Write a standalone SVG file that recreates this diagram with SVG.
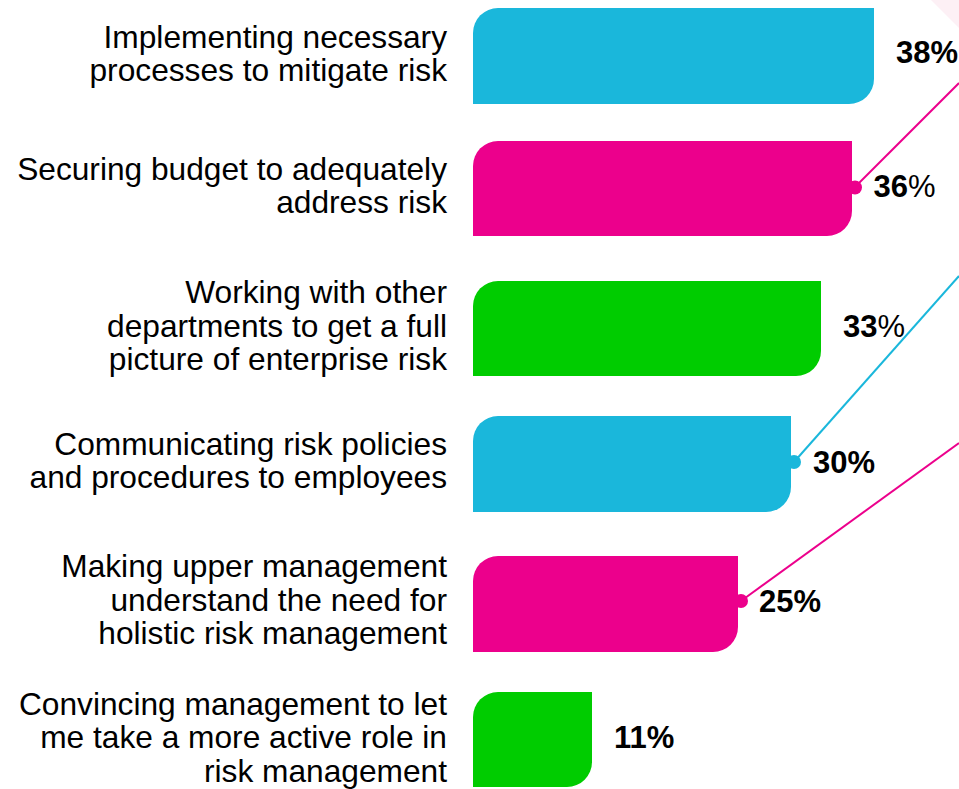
<svg xmlns="http://www.w3.org/2000/svg" width="959" height="789" viewBox="0 0 959 789">
<style>
.lbl{font-family:"Liberation Sans",Arial,sans-serif;font-size:31.7px;fill:#000;text-anchor:end}
.pct{font-family:"Liberation Sans",Arial,sans-serif;font-size:31px;font-weight:bold;fill:#000}
.reg{font-weight:normal}
.cyan{fill:#1AB7DB}
.pink{fill:#EC008C}
.green{fill:#00CC00}
.ln{fill:none;stroke-width:2}
</style>
<rect width="959" height="789" fill="#fff"/>
<polygon points="931,0 959,0 959,28" fill="#fdf0f5"/>
<g id="connectors">
<line class="ln" x1="855" y1="187" x2="959" y2="83" stroke="#EC008C"/>
<line class="ln" x1="794" y1="462" x2="959" y2="276" stroke="#1AB7DB"/>
<line class="ln" x1="741" y1="601" x2="959" y2="443" stroke="#EC008C"/>
<circle cx="855" cy="187.5" r="7" class="pink"/>
<circle cx="794" cy="462" r="7" class="cyan"/>
<circle cx="741" cy="601" r="7" class="pink"/>
</g>
<g id="bar1">
<path class="cyan" d="M473,33 A25,25 0 0 1 498,8 H874 V79 A25,25 0 0 1 849,104 H473 Z"/>
<text class="lbl" x="447" y="48">Implementing necessary</text>
<text class="lbl" x="447" y="81.3">processes to mitigate risk</text>
<text class="pct" x="896" y="63.3">38%</text>
</g>
<g id="bar2">
<path class="pink" d="M473,166 A25,25 0 0 1 498,141 H852 V211 A25,25 0 0 1 827,236 H473 Z"/>
<text class="lbl" x="447" y="180">Securing budget to adequately</text>
<text class="lbl" x="447" y="213.3">address risk</text>
<text class="pct" x="873.5" y="196.7">36<tspan class="reg">%</tspan></text>
</g>
<g id="bar3">
<path class="green" d="M473,306 A25,25 0 0 1 498,281 H821 V351 A25,25 0 0 1 796,376 H473 Z"/>
<text class="lbl" x="447" y="303.3">Working with other</text>
<text class="lbl" x="447" y="336.7">departments to get a full</text>
<text class="lbl" x="447" y="370">picture of enterprise risk</text>
<text class="pct" x="843" y="336.7">33<tspan class="reg">%</tspan></text>
</g>
<g id="bar4">
<path class="cyan" d="M473,441 A25,25 0 0 1 498,416 H791 V487 A25,25 0 0 1 766,512 H473 Z"/>
<text class="lbl" x="447" y="455">Communicating risk policies</text>
<text class="lbl" x="447" y="488.3">and procedures to employees</text>
<text class="pct" x="813" y="472.7">30%</text>
</g>
<g id="bar5">
<path class="pink" d="M473,581 A25,25 0 0 1 498,556 H738 V627 A25,25 0 0 1 713,652 H473 Z"/>
<text class="lbl" x="447" y="577.3">Making upper management</text>
<text class="lbl" x="447" y="610.7">understand the need for</text>
<text class="lbl" x="447" y="644">holistic risk management</text>
<text class="pct" x="759" y="611.7">25%</text>
</g>
<g id="bar6">
<path class="green" d="M473,717 A25,25 0 0 1 498,692 H592 V762 A25,25 0 0 1 567,787 H473 Z"/>
<text class="lbl" x="447" y="715">Convincing management to let</text>
<text class="lbl" x="447" y="748.3">me take a more active role in</text>
<text class="lbl" x="447" y="781.7">risk management</text>
<text class="pct" x="614" y="748.3">11%</text>
</g>
</svg>
